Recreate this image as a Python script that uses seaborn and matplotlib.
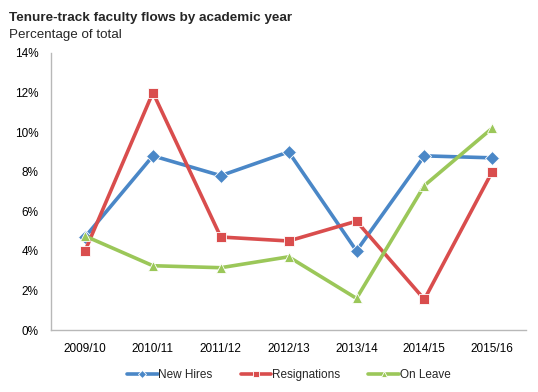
import matplotlib
matplotlib.use("Agg")
import matplotlib.pyplot as plt
from matplotlib.ticker import MultipleLocator, FuncFormatter
import pandas as pd
import seaborn as sns

years = ["2009/10", "2010/11", "2011/12", "2012/13", "2013/14", "2014/15", "2015/16"]
new_hires = [4.7, 8.8, 7.8, 9.0, 4.0, 8.8, 8.7]
resignations = [4.0, 12.0, 4.7, 4.5, 5.5, 1.55, 8.0]
on_leave = [4.75, 3.25, 3.15, 3.7, 1.6, 7.3, 10.2]

series = ["New Hires", "Resignations", "On Leave"]
colors = ["#4a87c7", "#d94d4d", "#9bc759"]
markers = ["D", "s", "^"]

df = pd.DataFrame({"year": years, "New Hires": new_hires,
                   "Resignations": resignations, "On Leave": on_leave})
long = df.melt(id_vars="year", var_name="series", value_name="pct")

sns.set_style("white")
plt.rcParams["font.family"] = ["Liberation Sans", "DejaVu Sans"]

fig, ax = plt.subplots(figsize=(5.38, 3.92), dpi=100)
fig.subplots_adjust(0.095, 0.158, 0.978, 0.865)

sns.lineplot(data=long, x="year", y="pct", hue="series", style="series",
             hue_order=series, style_order=series,
             palette=dict(zip(series, colors)), markers=dict(zip(series, markers)),
             dashes=False, linewidth=2.6, markersize=7.5, markeredgewidth=0.6,
             ax=ax, sort=False)

ax.set_xlim(-0.5, len(years) - 0.5)
ax.set_ylim(0, 14)
ax.yaxis.set_major_locator(MultipleLocator(2))
ax.yaxis.set_major_formatter(FuncFormatter(lambda v, p: f"{v:.0f}%"))
ax.set_xlabel("")
ax.set_ylabel("")
ax.tick_params(axis="both", length=0, labelsize=8.5, colors="black", pad=9)
for side in ["top", "right"]:
    ax.spines[side].set_visible(False)
for side in ["left", "bottom"]:
    ax.spines[side].set_color("#b8b8b8")
    ax.spines[side].set_linewidth(1)

ax.legend(loc="upper center", bbox_to_anchor=(0.5, -0.125), ncol=3, frameon=False,
          fontsize=8.5, handlelength=2.6, handletextpad=0.05, columnspacing=2.4,
          borderaxespad=0, markerscale=0.5)

fig.text(0.017, 0.955, "Tenure-track faculty flows by academic year",
         fontsize=9.7, fontweight="bold", va="center")
fig.text(0.017, 0.91, "Percentage of total", fontsize=9.6, va="center")

plt.savefig("out.png", dpi=100)
